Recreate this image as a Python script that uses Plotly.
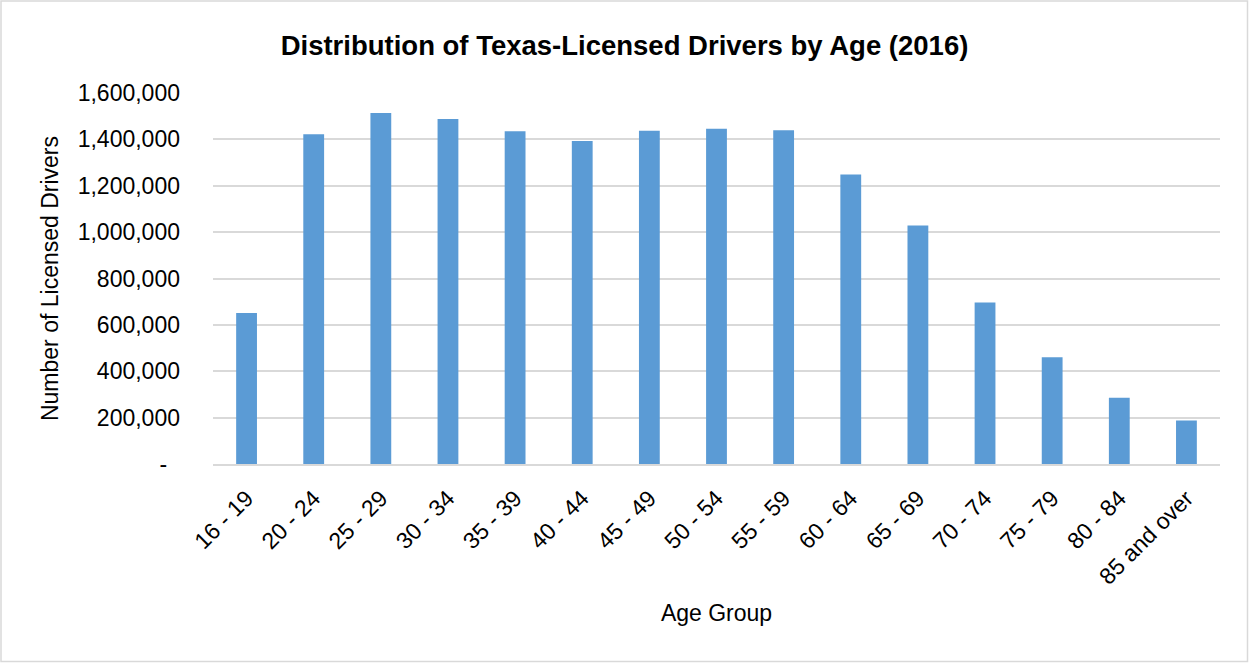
import plotly.graph_objects as go

age_groups = ["16 - 19", "20 - 24", "25 - 29", "30 - 34", "35 - 39", "40 - 44", "45 - 49",
              "50 - 54", "55 - 59", "60 - 64", "65 - 69", "70 - 74", "75 - 79", "80 - 84",
              "85 and over"]
drivers = [651000, 1422000, 1514000, 1488000, 1435000, 1393000, 1437000,
           1446000, 1439000, 1249000, 1029000, 696000, 460000, 286000, 188000]

y_tickvals = [0, 200000, 400000, 600000, 800000, 1000000, 1200000, 1400000, 1600000]
y_ticktext = ["-\u00a0\u00a0", "200,000", "400,000", "600,000", "800,000",
              "1,000,000", "1,200,000", "1,400,000", "1,600,000"]

FONT = "Liberation Sans Narrow, Arial Narrow, Liberation Sans, Arial, sans-serif"

W, H = 1249, 663
L, R, T, B = 213, 29, 93, 199
pw, ph = W - L - R, H - T - B

fig = go.Figure(go.Bar(x=age_groups, y=drivers, marker=dict(color="#5B9BD5", line=dict(width=0)),
                       width=0.31))

fig.update_layout(
    width=W, height=H,
    margin=dict(l=L, r=R, t=T, b=B, autoexpand=False),
    paper_bgcolor="white", plot_bgcolor="white",
    font=dict(family=FONT, color="black", size=23),
    title=dict(text="<b>Distribution of Texas-Licensed Drivers by Age (2016)</b>",
               x=0.5, xanchor="center", y=1 - 45 / H, yanchor="middle",
               font=dict(family=FONT, size=27.5, color="black")),
    showlegend=False,
    bargap=0.69,
)
fig.update_yaxes(range=[0, 1600000], tickvals=y_tickvals, ticktext=y_ticktext,
                 showgrid=True, gridcolor="#d9d9d9", gridwidth=1.5,
                 zeroline=False, showline=False, ticks="", ticklabelstandoff=32,
                 tickfont=dict(size=23),
                 title=dict(text="Number of Licensed Drivers", font=dict(size=23), standoff=12))
fig.update_xaxes(tickangle=-45, showgrid=False, showline=True, linecolor="#d9d9d9", linewidth=1.5,
                 ticks="", ticklabelstandoff=10, tickfont=dict(size=23),
                 title=dict(text="Age Group", font=dict(size=23), standoff=16))

# outer chart border
fig.add_shape(type="rect", xref="paper", yref="paper",
              x0=(1 - L) / pw, x1=(W - 1.5 - L) / pw,
              y0=(H - B - (H - 1.5)) / ph, y1=(H - B - 1) / ph,
              line=dict(color="#d9d9d9", width=1.5), fillcolor="rgba(0,0,0,0)", layer="below")

fig.write_html("out.html", config={"displayModeBar": False},
               post_script="document.body.style.margin='0px';")
